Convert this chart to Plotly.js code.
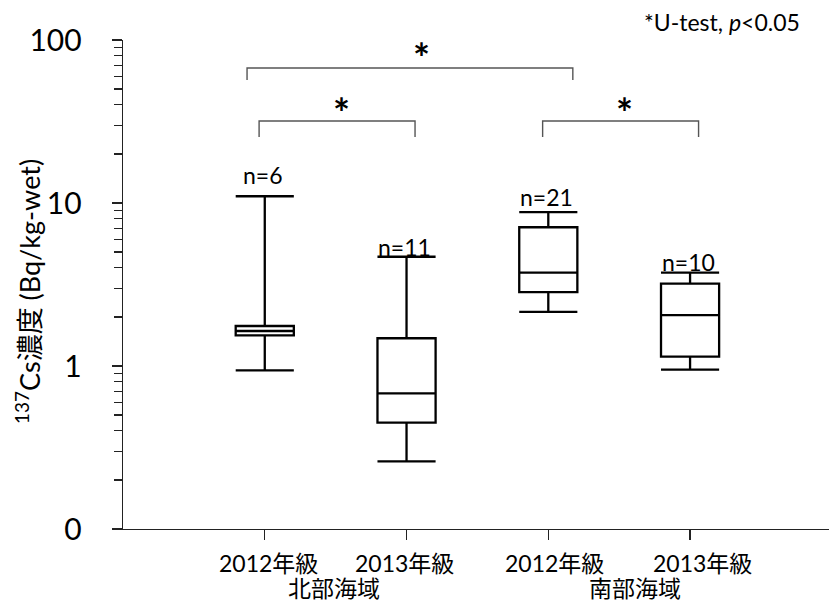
<!DOCTYPE html>
<html>
<head>
<meta charset="utf-8">
<script src="https://cdn.plot.ly/plotly-3.0.1.min.js"></script>
<style>
  html, body { margin: 0; padding: 0; background: #fff; }
  #chart { width: 829px; height: 603px; }
</style>
</head>
<body>
<div id="chart"></div>
<script>
// Cs-137 concentration by year class and sea area (box summaries)
const yearClasses = ['2012年級', '2013年級', '2012年級', '2013年級'];
const seaAreas = ['北部海域', '南部海域'];
const counts = [6, 11, 21, 10];

const lowerWhisker = [0.94, 0.26, 2.15, 0.95];
const quartile1    = [1.54, 0.45, 2.84, 1.14];
const medians      = [1.64, 0.68, 3.74, 2.05];
const quartile3    = [1.76, 1.48, 7.10, 3.20];
const upperWhisker = [11.0, 4.68, 8.80, 3.74];

// pairs of groups with a significant difference (U-test)
const significantPairs = [[0, 1], [2, 3], [0, 2]];

const yTickVals = [0.1, 1, 10, 100];
const yTickText = ['0', '1', '10', '100'];

const FONT = 'Lato, "Noto Sans CJK JP", sans-serif';
const positions = yearClasses.map((_, i) => i);

const minorVals = [];
[0.1, 1, 10].forEach(base => {
  for (let k = 2; k <= 9; k++) minorVals.push(base * k);
});

const boxTrace = {
  type: 'box',
  x: positions,
  q1: quartile1,
  median: medians,
  q3: quartile3,
  lowerfence: lowerWhisker,
  upperfence: upperWhisker,
  boxpoints: false,
  width: 0.41,
  whiskerwidth: 1,
  fillcolor: '#ffffff',
  line: { color: '#000000', width: 2.3 },
  hoverinfo: 'skip',
  showlegend: false
};

const annotations = [];

// category labels under the axis
const labelShift = [4, -2, 6, 12];
yearClasses.forEach((t, i) => {
  annotations.push({
    text: t, x: i, xref: 'x', y: 0, yref: 'paper',
    yanchor: 'middle', xanchor: 'center', yshift: -34, xshift: labelShift[i],
    showarrow: false, font: { family: FONT, size: 23, color: '#000' }
  });
});

// sea-area group labels
const areaCenters = [0.485, 2.61];
seaAreas.forEach((t, i) => {
  annotations.push({
    text: t, x: areaCenters[i], xref: 'x', y: 0, yref: 'paper',
    yanchor: 'middle', xanchor: 'center', yshift: -59,
    showarrow: false, font: { family: FONT, size: 23, color: '#000' }
  });
});

// sample sizes above each upper whisker
const nShift = [21, 10, 15, 11];
counts.forEach((n, i) => {
  annotations.push({
    text: 'n=' + n, x: i, xref: 'x', y: Math.log10(upperWhisker[i]), yref: 'y',
    yanchor: 'middle', xanchor: 'center', yshift: nShift[i], xshift: -2,
    showarrow: false, font: { family: FONT, size: 23, color: '#000' }
  });
});

// significance brackets
const shapes = [];
const bracketLevels = [
  { top: 0.8344, leg: 0.8016, x0off: -0.04, x1off: 0.06, star: 0.871 },
  { top: 0.8344, leg: 0.8016, x0off: -0.04, x1off: 0.06, star: 0.871 },
  { top: 0.9427, leg: 0.9182, x0off: -0.125, x1off: 0.173, star: 0.984 }
];
significantPairs.forEach((pair, k) => {
  const lv = bracketLevels[k];
  const xa = pair[0] + lv.x0off;
  const xb = pair[1] + lv.x1off;
  shapes.push({
    type: 'path', xref: 'x', yref: 'paper',
    path: `M ${xa} ${lv.leg} L ${xa} ${lv.top} L ${xb} ${lv.top} L ${xb} ${lv.leg}`,
    line: { color: '#555555', width: 1.4 }
  });
  annotations.push({
    text: '<b>*</b>', x: (xa + xb) / 2, xref: 'x', y: lv.star, yref: 'paper',
    xanchor: 'center', yanchor: 'middle', yshift: -10, xshift: k === 2 ? 12 : 4,
    showarrow: false, font: { family: FONT, size: 40, color: '#000' }
  });
});

// test note
annotations.push({
  text: '*U-test, <i>p</i>&lt;0.05', x: 0.962, xref: 'paper', y: 1.0368, yref: 'paper',
  xanchor: 'right', yanchor: 'middle', showarrow: false,
  font: { family: FONT, size: 23, color: '#000' }
});

// y-axis title
annotations.push({
  text: '<sup>137</sup>Cs濃度 (Bq/kg-wet)', x: -0.1346, xref: 'paper', y: 0.4867, yref: 'paper',
  xanchor: 'center', yanchor: 'middle', textangle: -90, showarrow: false,
  font: { family: FONT, size: 27, color: '#000' }
});

const layout = {
  width: 829, height: 603,
  margin: { l: 123, r: 0, t: 40, b: 74 },
  paper_bgcolor: '#ffffff', plot_bgcolor: '#ffffff',
  showlegend: false,
  font: { family: FONT, color: '#000' },
  xaxis: {
    range: [-1, 3.98],
    tickvals: positions,
    showticklabels: false,
    ticks: 'outside', ticklen: 10, tickwidth: 1.4, tickcolor: '#222',
    showline: true, linecolor: '#222', linewidth: 1.4,
    showgrid: false, zeroline: false, fixedrange: true
  },
  yaxis: {
    type: 'log',
    range: [-1, 2],
    tickvals: yTickVals,
    ticktext: yTickText,
    tickfont: { family: FONT, size: 30, color: '#000' },
    ticks: 'outside', ticklen: 10, tickwidth: 1.4, tickcolor: '#222',
    ticklabelstandoff: 24,
    minor: { tickvals: minorVals, ticks: 'outside', ticklen: 8, tickwidth: 1.2, tickcolor: '#222', showgrid: false },
    showline: true, linecolor: '#222', linewidth: 1.4,
    showgrid: false, zeroline: false, fixedrange: true
  },
  shapes: shapes,
  annotations: annotations
};

Plotly.newPlot('chart', [boxTrace], layout, { displayModeBar: false, staticPlot: true });
</script>
</body>
</html>
